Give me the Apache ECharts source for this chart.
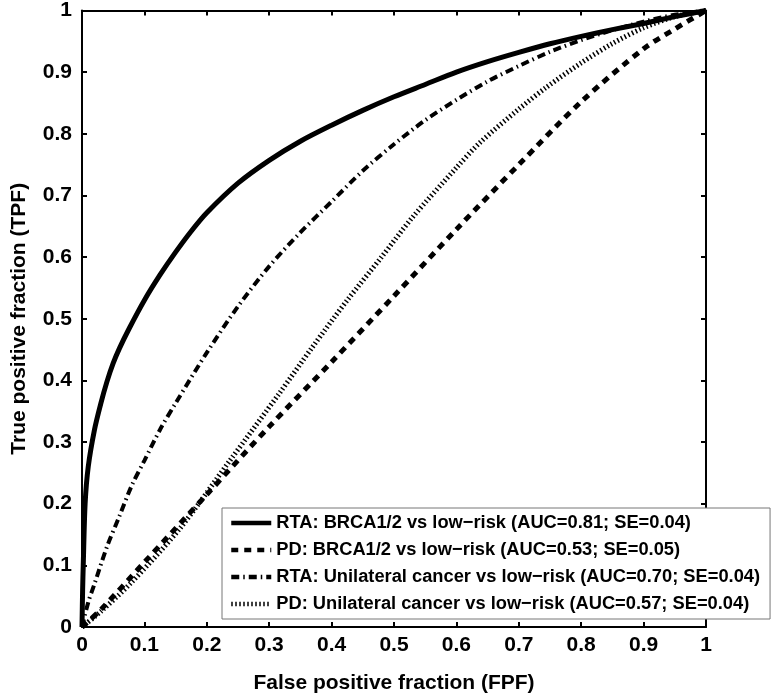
<!DOCTYPE html>
<html>
<head>
<meta charset="utf-8">
<script src="https://cdn.jsdelivr.net/npm/echarts@6/dist/echarts.min.js"></script>
<style>html,body{margin:0;padding:0;background:#fff}#c{width:780px;height:699px}</style>
</head>
<body>
<div id="c"></div>
<script>
var xTicks = [0,0.1,0.2,0.3,0.4,0.5,0.6,0.7,0.8,0.9,1];
var names = [
  'RTA: BRCA1/2 vs low\u2212risk (AUC=0.81; SE=0.04)',
  'PD: BRCA1/2 vs low\u2212risk (AUC=0.53; SE=0.05)',
  'RTA: Unilateral cancer vs low\u2212risk (AUC=0.70; SE=0.04)',
  'PD: Unilateral cancer vs low\u2212risk (AUC=0.57; SE=0.04)'
];
var rtaBrca = [[0,0],[0.001,0.06],[0.002,0.1],[0.005,0.2],[0.01,0.26],[0.02,0.32],[0.03,0.362],[0.04,0.398],[0.05,0.428],[0.06,0.452],[0.075,0.483],[0.1,0.53],[0.125,0.571],[0.15,0.608],[0.175,0.642],[0.2,0.672],[0.25,0.72],[0.3,0.757],[0.35,0.788],[0.4,0.814],[0.45,0.838],[0.5,0.86],[0.55,0.88],[0.6,0.9],[0.65,0.917],[0.7,0.932],[0.75,0.946],[0.8,0.958],[0.85,0.969],[0.9,0.979],[0.95,0.99],[1,1]];
var pdBrca = [[0,0],[0.03,0.028],[0.1,0.105],[0.2,0.215],[0.3,0.325],[0.4,0.43],[0.5,0.537],[0.6,0.645],[0.7,0.75],[0.8,0.852],[0.9,0.938],[0.95,0.97],[1,1]];
var rtaUni = [[0,0],[0.01,0.04],[0.02,0.07],[0.04,0.13],[0.06,0.18],[0.08,0.23],[0.1,0.27],[0.125,0.32],[0.15,0.363],[0.2,0.445],[0.25,0.52],[0.3,0.585],[0.35,0.64],[0.4,0.69],[0.45,0.74],[0.5,0.783],[0.55,0.822],[0.6,0.855],[0.65,0.885],[0.7,0.91],[0.75,0.933],[0.8,0.952],[0.85,0.968],[0.9,0.982],[0.95,0.993],[1,1]];
var pdUni = [[0,0],[0.03,0.025],[0.077,0.07],[0.157,0.16],[0.237,0.27],[0.317,0.38],[0.37,0.455],[0.425,0.53],[0.48,0.6],[0.53,0.665],[0.6,0.745],[0.638,0.786],[0.7,0.84],[0.745,0.876],[0.8,0.915],[0.851,0.947],[0.9,0.972],[0.95,0.99],[1,1]];

var FONT = '"Liberation Sans", Arial, Helvetica, sans-serif';
function axisBase(show) {
  return {
    type: 'value', min: 0, max: 1, interval: 0.1,
    axisLine: {show: true, onZero: false, lineStyle: {color: '#000', width: 2}},
    axisTick: {show: true, inside: true, length: 5, lineStyle: {color: '#000', width: 2}},
    splitLine: {show: false},
    axisLabel: {show: show, color: '#000', fontSize: 21, fontWeight: 'bold', fontFamily: FONT,
      formatter: function (v) { return String(Math.round(v * 10) / 10); }}
  };
}
var xa = axisBase(true);
xa.position = 'bottom';
xa.name = 'False positive fraction (FPF)';
xa.nameLocation = 'middle';
xa.nameGap = 46;
xa.nameTextStyle = {color: '#000', fontSize: 21, fontWeight: 'bold', fontFamily: FONT};
xa.axisLabel.margin = 8;
var xTop = axisBase(false); xTop.position = 'top';
var ya = axisBase(true);
ya.position = 'left';
ya.name = 'True positive fraction (TPF)';
ya.nameLocation = 'middle';
ya.nameGap = 52;
ya.nameTextStyle = {color: '#000', fontSize: 21, fontWeight: 'bold', fontFamily: FONT};
ya.axisLabel.margin = 10;
var yRight = axisBase(false); yRight.position = 'right';

function ser(name, data, width, type) {
  return {
    name: name, type: 'line', data: data, xAxisIndex: 0, yAxisIndex: 0,
    showSymbol: false, symbol: 'none', smooth: 0.3, silent: true,
    lineStyle: {color: '#000', width: width, type: type},
    itemStyle: {color: '#000'}
  };
}

var chart = echarts.init(document.getElementById('c'), null, {renderer: 'canvas'});
chart.setOption({
  animation: false,
  backgroundColor: '#fff',
  grid: {left: 82, right: 74, top: 10, bottom: 66, containLabel: false},
  xAxis: [xa, xTop],
  yAxis: [ya, yRight],
  legend: {
    orient: 'vertical', left: 222, top: 508,
    data: names,
    itemWidth: 40, itemHeight: 14, itemGap: 7,
    padding: [5, 10, 5, 7],
    itemStyle: {opacity: 0},
    lineStyle: {width: 4.5},
    backgroundColor: '#fff', borderColor: '#777', borderWidth: 1,
    textStyle: {color: '#000', fontSize: 18.3, lineHeight: 20, fontWeight: 'bold', fontFamily: FONT}
  },
  series: [
    ser(names[0], rtaBrca, 5, 'solid'),
    ser(names[1], pdBrca, 5, [7, 6]),
    ser(names[2], rtaUni, 4, [8, 4, 1.5, 4]),
    ser(names[3], pdUni, 5, [1.5, 2.5])
  ]
});
</script>
</body>
</html>
